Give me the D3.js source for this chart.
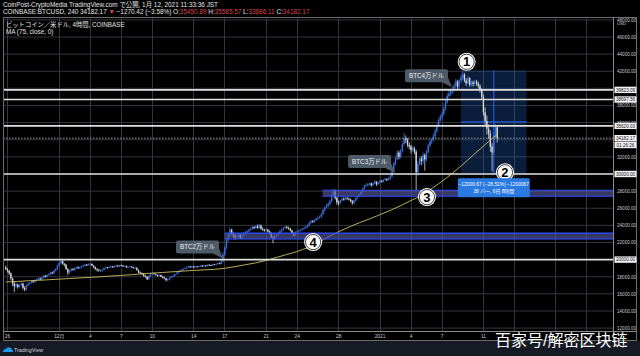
<!DOCTYPE html>
<html><head><meta charset="utf-8">
<script src="https://cdn.jsdelivr.net/npm/d3@7"></script>
<style>
html,body{margin:0;padding:0;background:#000;}
svg{display:block;}
text{font-family:"Liberation Sans","Noto Sans CJK JP",Arial,sans-serif;}
</style></head><body>
<svg id="c" width="640" height="356"></svg>
<script>
// ---- DATA (4h candles, first candle 2020-11-25 21:00 JST) ----
const firstOpen = 19100;
const closes = [18900,
 18700,18400,17800,17200,16900,17100, 16800,17000,17200,16700,16500,17000,
 17200,17300,17500,17400,17600,17700, 17800,17700,17900,18100,18000,18200,
 18300,18500,18400,18700,18900,19300, 19600,19850,19500,19400,18900,18500,
 18700,18900,18800,19000,19100,19000, 19100,19200,19300,19400,19350,19450,
 19500,19300,19100,18900,18800,18700, 18700,18800,19000,19100,19050,19150,
 19200,19100,19250,19300,19200,19350, 19300,19200,19250,19100,19150,19200,
 19100,19000,19050,18800,18500,18400, 18300,18100,18000,17700,18100,18300,
 18400,18300,18200,18100,18200,18000, 17900,17800,17600,17700,17900,18000,
 18100,18300,18400,18600,18700,18800, 18900,19000,19100,19200,19100,19200,
 19100,19200,19150,19250,19300,19200, 19300,19250,19400,19350,19300,19450,
 19400,19500,19600,19500,19800,20600, 21400,22300,22800,23500,23000,22800,
 22600,22700,22900,22500,22800,23000, 23200,23300,23500,23600,23800,23700,
 23900,23700,24000,23600,23500,23400, 23500,23300,23100,22600,22400,22800,
 22900,23100,23300,23500,23700,23800, 23700,23600,23400,23100,22800,23200,
 23300,23400,23500,23600,23700,23800, 24000,24300,24500,24400,24600,24800,
 24900,25000,25300,25800,26100,26300, 26500,26800,27500,28000,27200,26700,
 26600,26900,27100,27000,27200,27100, 27000,26800,26600,26900,27200,27400,
 27600,27900,28300,28600,28700,28800, 28900,28700,28900,29100,28800,29000,
 29200,29100,29300,29400,29300,29500, 29700,30300,31200,31800,32500,32000,
 32700,33500,34200,34000,33400,33200, 32800,33000,32600,30200,31200,31800,
 31500,32200,31700,32600,33300,33800, 34000,34400,35000,35700,36300,36700,
 37000,37600,38400,39100,39400,39700, 39900,40300,40800,40200,40900,41300,
 41600,40900,40600,41200,40400,40700, 40500,40800,40600,40300,39800,39000,
 37200,36200,35300,34700,33200,32500, 34600,35452.59,34182.17];
const highs = [19300,
 19000,18800,18500,17900,17400,17300, 17200,17100,17400,17300,16900,17100,
 17300,17400,17600,17600,17700,17800, 17900,17900,18000,18200,18200,18300,
 18400,18600,18600,18800,19000,19400, 19700,19900,19900,19600,19500,19000,
 18800,19000,19000,19100,19200,19200, 19200,19300,19400,19500,19500,19550,
 19600,19550,19350,19200,19000,18900, 18850,18900,19100,19200,19150,19250,
 19300,19250,19300,19400,19350,19400, 19400,19350,19300,19300,19200,19250,
 19250,19150,19100,19100,18850,18600, 18500,18400,18200,18050,18200,18400,
 18500,18450,18350,18250,18300,18250, 18100,18000,17850,17800,17950,18100,
 18200,18350,18500,18650,18800,18900, 19000,19100,19200,19300,19250,19300,
 19250,19250,19250,19300,19350,19350, 19350,19350,19450,19450,19400,19500,
 19500,19550,19650,19650,19900,20900, 21600,22500,23000,23800,23600,23200,
 23000,22900,23100,23000,22900,23200, 23300,23450,23600,23750,24000,23900,
 24050,24100,24200,24100,23750,23600, 23650,23600,23400,23200,22800,22950,
 23000,23200,23400,23600,23800,23950, 23950,23850,23700,23500,23200,23300,
 23400,23500,23600,23700,23800,23950, 24100,24400,24650,24600,24700,24900,
 25000,25150,25400,25900,26200,26500, 26700,27000,27700,28300,28200,27400,
 26900,27000,27300,27250,27350,27300, 27250,27150,26950,27000,27300,27500,
 27700,28000,28400,28700,28900,28950, 29000,29000,29000,29300,29150,29100,
 29300,29300,29400,29600,29500,29650, 29900,30500,31400,32000,32800,32700,
 32900,33700,34800,34500,34200,33700, 33400,33300,33200,32800,31500,32000,
 32100,32500,32400,32800,33500,34000, 34200,34700,35300,35900,36500,36900,
 37300,37900,38700,39400,39800,39900, 40200,40600,41100,41000,41100,41600,
 41950,41800,41200,41500,41300,40900, 40900,41000,41000,40800,40500,40000,
 39300,37800,36800,35800,35100,33600, 34900,35800,35585.57];
const lows = [18800,
 18500,18200,17600,16900,16200,16700, 16600,16700,16900,16500,16300,16400,
 16900,17100,17200,17300,17300,17500, 17600,17600,17600,17800,17900,17900,
 18100,18200,18300,18300,18600,18800, 19200,19500,19400,19200,18800,18200,
 18300,18600,18700,18700,18900,18900, 18900,19000,19100,19200,19250,19300,
 19350,19250,19000,18800,18600,18600, 18550,18600,18750,18950,18950,19000,
 19050,19050,19050,19150,19150,19150, 19250,19150,19150,19050,19050,19100,
 19050,18950,18900,18700,18400,18300, 18200,18000,17900,17600,17650,18000,
 18250,18250,18150,18000,18050,17950, 17800,17700,17450,17500,17650,17850,
 17900,18050,18250,18350,18550,18650, 18700,18850,18950,19050,19050,19050,
 19000,19050,19100,19100,19200,19150, 19150,19200,19200,19300,19250,19250,
 19350,19350,19450,19450,19450,19750, 20400,21200,22000,22600,22900,22500,
 22300,22400,22600,22400,22400,22700, 22900,23100,23200,23400,23500,23550,
 23600,23600,23600,23500,23350,23250, 23300,23200,23000,22500,21900,22300,
 22600,22750,22950,23200,23400,23600, 23600,23500,23300,23000,22700,22750,
 23100,23150,23300,23400,23500,23600, 23700,23900,24200,24300,24300,24500,
 24650,24800,24900,25200,25600,26000, 26100,26300,26700,27300,27000,26400,
 26300,26450,26800,26900,26900,27000, 26900,26700,26400,26500,26800,27100,
 27300,27500,27800,28200,28500,28550, 28650,28500,28600,28800,28600,28700,
 28900,29000,29000,29200,29150,29250, 29300,29600,30200,31000,31600,31700,
 31800,32500,33300,33600,33100,32900, 32400,32600,32300,28100,29800,31000,
 31000,31200,30400,31500,32400,33100, 33500,33800,34200,34800,35500,36100,
 36400,36800,37400,38200,38900,39100, 39300,39600,40000,39800,39900,40600,
 41000,40700,40300,40500,40200,40200, 40200,40300,40300,40000,39500,38700,
 36800,35700,34600,34100,32600,30300, 32200,34300,33686.11];
// MA(75) read at first candle, then at each day's 01:00 candle, then the last candle
const maFirst = 17380;
const maDaily = [17400,17450,17530,17580,17650,17720,17790,17860,17930,18000,18080,18160,
 18240,18340,18420,18500,18580,18660,18740,18800,18860,18980,19180,19400,19620,19900,
 20250,20600,20950,21400,21950,22650,23250,23800,24300,24750,25250,25750,26300,26900,
 27500,28300,29150,30100,31100,32200,33250,34300];
const maLast = 34600;

const timeTickDates = ["2020-11-26","2020-12-01","2020-12-04","2020-12-07","2020-12-10","2020-12-14",
 "2020-12-17","2020-12-21","2020-12-24","2020-12-28","2021-01-01","2021-01-04","2021-01-07",
 "2021-01-11"];
const timeTickLabels = ["26","12月","4","7","10","14","17","21","24","28","2021","4","7","11"];
const extraGridDates = ["2021-01-14","2021-01-18","2021-01-21"];
const priceTicks = [48000,46000,44000,42000,38000,36000,32000,28000,26000,24000,22000,18000,16000,14000,12000];
const gridPrices = d3.range(12000, 48001, 2000);
const levelPrices = [39823.09, 38697.56, 35620.03, 30000, 20000];
const levelLabels = ["39823.09","38697.56","35620.03","30000.00","20000.00"];
const lastPrice = 34182.17;
const countdown = "01:26:26";
const bandLows = [27400, 22400];
const bandHighs = [28100, 23100];
const bandStarts = ["2020-12-26T12:00", "2020-12-17T01:00"];
const calloutTexts = ["BTC4万ドル","BTC3万ドル","BTC2万ドル"];
const calloutTimes = ["2021-01-08T00:00","2021-01-02T12:00","2020-12-16T21:00"];
const calloutPrices = [40000, 30000, 20000];
const markerLabels = ["1","2","3","4"];
const markerTimes = ["2021-01-09T10:00","2021-01-13T03:00","2021-01-05T14:00","2020-12-25T14:00"];
const markerPrices = [43100, 30200, 27300, 22050];
const measureStart = "2021-01-08T21:00";
const measureBars = 38;
const measureTop = 42091.67, measureBottom = 30091.00;
const measureLines = ["−12000.67 (−28.51%) −1200067", "38 バー, 6日 8時間"];

// ---- helpers ----
const T = s => new Date(s.length === 10 ? s + "T00:00:00Z" : s + ":00Z");
const H4 = 4 * 3600 * 1000;
const t0 = T("2020-11-25T21:00");
const candles = closes.map((c, i) => {
  const o = i === 0 ? firstOpen : (i === closes.length - 1 ? 35450.89 : closes[i - 1]);
  return { t: new Date(+t0 + i * H4), o, c, h: Math.max(highs[i], o, c), l: Math.min(lows[i], o, c) };
});
const maPts = [{ t: t0, v: maFirst }]
  .concat(maDaily.map((v, d) => ({ t: new Date(+t0 + (1 + 6 * d) * H4), v })))
  .concat([{ t: new Date(+t0 + (closes.length - 1) * H4), v: maLast }]);

// ---- layout ----
const PL = 3, PR = 613, PT = 17, PB = 331, FR = 637, FB = 341;
const svg = d3.select("#c");
const x = d3.scaleUtc().domain([T("2020-11-26"), T("2021-01-11")]).range([7, 483]);
const y = d3.scaleLinear().domain([12000, 46000]).range([328.1, 37]);

svg.append("rect").attr("width", 640).attr("height", 356).attr("fill", "#000");
svg.append("rect").attr("x", 0).attr("y", FB).attr("width", 640).attr("height", 356 - FB).attr("fill", "#161a25");

svg.append("defs").append("clipPath").attr("id", "pane")
  .append("rect").attr("x", PL).attr("y", PT).attr("width", PR - PL).attr("height", PB - PT);
const pane = svg.append("g").attr("clip-path", "url(#pane)");

// grid
pane.selectAll("line.hg").data(gridPrices).join("line")
  .attr("x1", PL).attr("x2", PR).attr("y1", d => y(d)).attr("y2", d => y(d))
  .attr("stroke", "#33363c").attr("stroke-width", 1);
pane.selectAll("line.vg").data(timeTickDates.concat(extraGridDates)).join("line")
  .attr("x1", d => Math.round(x(T(d))) + 0.5).attr("x2", d => Math.round(x(T(d))) + 0.5)
  .attr("y1", PT).attr("y2", PB).attr("stroke", "#33363c").attr("stroke-width", 1);

// measurement box fill
const mx0 = x(T(measureStart)), mx1 = x(new Date(+T(measureStart) + measureBars * H4));
pane.append("rect").attr("x", mx0).attr("y", y(measureTop)).attr("width", mx1 - mx0)
  .attr("height", y(measureBottom) - y(measureTop)).attr("fill", "#1e5ab4").attr("opacity", 0.33);
const mmx = (mx0 + mx1) / 2, mmy = (y(measureTop) + y(measureBottom)) / 2;
pane.append("line").attr("x1", mx0).attr("x2", mx1).attr("y1", mmy).attr("y2", mmy)
  .attr("stroke", "#2962ff").attr("stroke-width", 1);
pane.append("line").attr("x1", mmx).attr("x2", mmx).attr("y1", y(measureTop)).attr("y2", y(measureBottom))
  .attr("stroke", "#2962ff").attr("stroke-width", 1);

// candles
const upC = "#3b6fe0", dnC = "#d6d6d6";
const cg = pane.append("g");
cg.selectAll("line").data(candles).join("line")
  .attr("x1", d => x(d.t)).attr("x2", d => x(d.t)).attr("y1", d => y(d.h)).attr("y2", d => y(d.l))
  .attr("stroke", d => d.c >= d.o ? upC : dnC).attr("stroke-width", 0.8);
cg.selectAll("rect").data(candles).join("rect")
  .attr("x", d => x(d.t) - 0.7).attr("width", 1.4)
  .attr("y", d => y(Math.max(d.o, d.c))).attr("height", d => Math.max(0.8, Math.abs(y(d.o) - y(d.c))))
  .attr("fill", d => d.c >= d.o ? upC : dnC);

// MA line
pane.append("path").datum(maPts)
  .attr("d", d3.line().x(d => x(d.t)).y(d => y(d.v)).curve(d3.curveMonotoneX))
  .attr("fill", "none").attr("stroke", "#d0bc5c").attr("stroke-width", 0.9);

// bands
bandLows.forEach((lo, i) => {
  const bx = x(T(bandStarts[i]));
  pane.append("rect").attr("x", bx).attr("y", y(bandHighs[i])).attr("width", PR - bx)
    .attr("height", y(lo) - y(bandHighs[i])).attr("fill", "#54589a").attr("opacity", 0.65);
  pane.append("line").attr("x1", bx).attr("x2", PR).attr("y1", y(bandHighs[i])).attr("y2", y(bandHighs[i]))
    .attr("stroke", "#2f4dff").attr("stroke-width", 1.2);
  pane.append("line").attr("x1", bx).attr("x2", PR).attr("y1", y(lo)).attr("y2", y(lo))
    .attr("stroke", "#2f4dff").attr("stroke-width", 1);
});

// level lines
pane.selectAll("line.lv").data(levelPrices).join("line")
  .attr("x1", PL).attr("x2", PR).attr("y1", d => y(d)).attr("y2", d => y(d))
  .attr("stroke", "#dedede").attr("stroke-width", 1.6);
pane.append("line").attr("x1", PL).attr("x2", PR).attr("y1", y(lastPrice)).attr("y2", y(lastPrice))
  .attr("stroke", "#9a9a9a").attr("stroke-width", 1).attr("stroke-dasharray", "1.5,1.5");

// callouts
calloutTexts.forEach((txt, i) => {
  const tx = x(T(calloutTimes[i])), ty = y(calloutPrices[i]);
  const bw = 43, bh = 13, bx = tx - 4 - bw, by = ty - 6 - bh;
  const g = pane.append("g");
  g.append("path").attr("d", `M${bx + bw - 8},${by + bh - 1} L${tx},${ty - 1} L${bx + bw},${by + bh - 5} Z`).attr("fill", "#4d5a67");
  g.append("rect").attr("x", bx).attr("y", by).attr("width", bw).attr("height", bh).attr("rx", 2).attr("fill", "#4d5a67");
  g.append("text").attr("x", bx + bw / 2).attr("y", by + bh / 2 + 2.3).attr("text-anchor", "middle")
    .attr("font-size", 6.3).attr("fill", "#f0f0f0").text(txt);
});

// measurement label
{
  const lw = 72, lh = 19, lx = mmx - lw / 2, ly = y(measureBottom) + 5;
  svg.append("rect").attr("x", lx).attr("y", ly).attr("width", lw).attr("height", lh).attr("rx", 1.5).attr("fill", "#2a7ae2");
  measureLines.forEach((s, k) => svg.append("text").attr("x", mmx).attr("y", ly + 7.5 + k * 7)
    .attr("text-anchor", "middle").attr("font-size", 4.9).attr("fill", "#fff").text(s));
}

// markers
markerLabels.forEach((m, i) => {
  const cx = x(T(markerTimes[i])), cy = y(markerPrices[i]);
  pane.append("circle").attr("cx", cx).attr("cy", cy).attr("r", 9).attr("fill", "#fff");
  pane.append("circle").attr("cx", cx).attr("cy", cy).attr("r", 7.6).attr("fill", "none").attr("stroke", "#111").attr("stroke-width", 0.8);
  pane.append("text").attr("x", cx).attr("y", cy + 4.6).attr("text-anchor", "middle")
    .attr("font-family", "DejaVu Sans, sans-serif").attr("font-weight", "bold").attr("font-size", 13)
    .attr("fill", "#000").text(m);
});

// frame
svg.append("rect").attr("x", PL + 0.5).attr("y", PT + 0.5).attr("width", FR - PL - 1).attr("height", FB - PT - 1)
  .attr("fill", "none").attr("stroke", "#6a6a6a").attr("stroke-width", 1);
svg.append("line").attr("x1", PR + 0.5).attr("x2", PR + 0.5).attr("y1", PT).attr("y2", FB).attr("stroke", "#8a8a8a");
svg.append("line").attr("x1", PL).attr("x2", FR).attr("y1", PB + 0.5).attr("y2", PB + 0.5).attr("stroke", "#8a8a8a");

// price axis
const ya = svg.append("g").attr("transform", `translate(${PR},0)`)
  .call(d3.axisRight(y).tickValues(priceTicks).tickSize(0).tickPadding(4).tickFormat(d3.format(".2f")));
ya.select(".domain").remove();
ya.selectAll("text").attr("font-size", 4.6).attr("fill", "#c8c8c8").attr("font-family", "Liberation Sans, sans-serif");
svg.append("text").attr("x", PR + 4).attr("y", y(48000) + 5.5).attr("font-size", 4.4).attr("fill", "#c8c8c8").text("USD");

// price label boxes
const boxLabel = (py, txt) => {
  svg.append("rect").attr("x", PR + 1.5).attr("y", py - 3.2).attr("width", 22).attr("height", 6.4).attr("fill", "#f2f2f2");
  svg.append("text").attr("x", PR + 12.5).attr("y", py + 1.7).attr("text-anchor", "middle")
    .attr("font-size", 4.6).attr("fill", "#111").text(txt);
};
levelPrices.forEach((p, i) => boxLabel(y(p), levelLabels[i]));
boxLabel(y(lastPrice), d3.format(".2f")(lastPrice));
boxLabel(y(lastPrice) + 6.8, countdown);

// time axis
const xa = svg.append("g").attr("transform", `translate(0,${PB})`)
  .call(d3.axisBottom(x).tickValues(timeTickDates.map(T)).tickSize(0).tickPadding(3.5)
    .tickFormat((d, i) => timeTickLabels[i]));
xa.select(".domain").remove();
xa.selectAll("text").attr("font-size", 4.8).attr("fill", "#c8c8c8").attr("font-family", "Liberation Sans, Noto Sans CJK JP, sans-serif");

// header
const hd = svg.append("g").attr("font-size", 6.4);
hd.append("text").attr("x", 3).attr("y", 7).attr("fill", "#e6e6e6")
  .text("CoinPost-CryptoMedia TradingView.com で公開, 1月 12, 2021 11:33:36 JST");
const l2 = hd.append("text").attr("x", 3).attr("y", 14.2).attr("fill", "#e6e6e6");
[["COINBASE:BTCUSD, 240 34182.17 ", "#e6e6e6"], ["▼", "#e04848"], [" −1270.42 (−3.58%) O:", "#e6e6e6"],
 ["35450.89", "#d9434b"], [" H:", "#e6e6e6"], ["35585.57", "#d9434b"], [" L:", "#e6e6e6"],
 ["33686.11", "#d9434b"], [" C:", "#e6e6e6"], ["34182.17", "#d9434b"]]
  .forEach(([s, c]) => l2.append("tspan").attr("fill", c).text(s));
svg.append("text").attr("x", 6).attr("y", 26.5).attr("font-size", 6.3).attr("fill", "#e0e0e0")
  .text("ビットコイン／米ドル, 4時間, COINBASE");
svg.append("text").attr("x", 6).attr("y", 34).attr("font-size", 6.3).attr("fill", "#e0e0e0")
  .text("MA (75, close, 0)");

// TradingView logo
svg.append("path").attr("d", "M3,352 q0,-3 3,-3 q1,-2.5 3.5,-1.5 q2.5,0 2.5,2.5 q1.5,0.5 1,2 z").attr("fill", "#2196f3");
svg.append("text").attr("x", 14).attr("y", 352.3).attr("font-size", 5.3).attr("fill", "#d0d3da").text("TradingView");

// watermark
svg.append("text").attr("x", 495).attr("y", 346).attr("font-size", 16)
  .attr("font-family", "Noto Sans CJK SC, sans-serif").attr("fill", "#fff")
  .attr("stroke", "rgba(0,0,0,0.35)").attr("stroke-width", 0.6).attr("paint-order", "stroke")
  .text("百家号/解密区块链");
</script></body></html>
